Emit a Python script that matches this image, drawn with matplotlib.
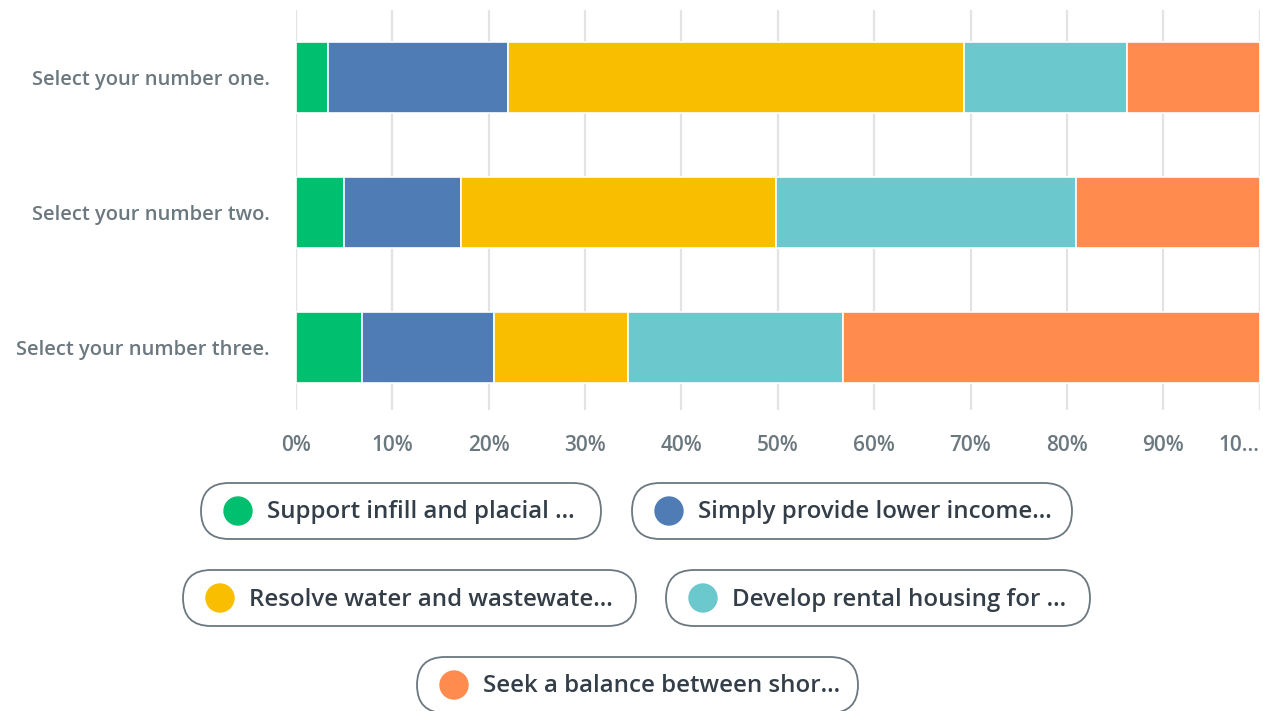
import matplotlib
matplotlib.use('Agg')
import matplotlib.pyplot as plt
from matplotlib.patches import FancyBboxPatch, Circle
import numpy as np

plt.rcParams['font.family'] = ['Open Sans', 'DejaVu Sans']

# ── Data ──────────────────────────────────────────────────────
QUESTIONS = ['Select your number one.', 'Select your number two.', 'Select your number three.']
SERIES    = ['Support infill and placial ...', 'Simply provide lower income...',
             'Resolve water and wastewate...', 'Develop rental housing for ...',
             'Seek a balance between shor...']
COLORS    = ['#00bf6f', '#507cb6', '#f9be00', '#6bc8cd', '#ff8b4f']
# percent per question (rows) for each series (cols)
VALUES = np.array([
    [3.3, 18.7, 47.3, 16.9, 13.8],
    [5.0, 12.1, 32.7, 31.1, 19.1],
    [6.9, 13.6, 13.9, 22.4, 43.2],
])
XTICKS      = [0, 10, 20, 30, 40, 50, 60, 70, 80, 90, 100]
XTICKLABELS = ['0%', '10%', '20%', '30%', '40%', '50%', '60%', '70%', '80%', '90%', '10...']

W, H = 1263, 711
fig = plt.figure(figsize=(W / 100, H / 100), dpi=100)

# ── Bars ──────────────────────────────────────────────────────
ax = fig.add_axes([296 / W, 1 - 410 / H, (1259.7 - 296) / W, 400 / H])
y = np.arange(len(QUESTIONS))
left = np.zeros(len(QUESTIONS))
for j in range(len(SERIES)):
    ax.barh(y, VALUES[:, j], left=left, height=0.525, color=COLORS[j],
            edgecolor='white', linewidth=1.2, zorder=3)
    left += VALUES[:, j]

ax.set_xlim(0, 100)
ax.set_ylim(2.46, -0.5)
ax.set_xticks(XTICKS)
ax.set_xticklabels(XTICKLABELS, fontsize=15, color='#6b787f', fontweight='semibold')
ax.get_xticklabels()[-1].set_horizontalalignment('right')
ax.set_yticks(y)
ax.set_yticklabels(QUESTIONS, fontsize=14.5, color='#6b787f', fontweight='semibold')
ax.tick_params(axis='both', length=0)
ax.tick_params(axis='x', pad=18)
ax.tick_params(axis='y', pad=19)
ax.grid(axis='x', color='#e3e3e3', lw=1.6, zorder=0)
for s in ax.spines.values():
    s.set_visible(False)

# ── Legend pills ──────────────────────────────────────────────
lg = fig.add_axes([0, 0, 1, 1])
lg.set_xlim(0, W); lg.set_ylim(H, 0)
lg.axis('off')
pills = [(201, 601, 511), (632, 1072, 511), (183, 636, 598), (666, 1090, 598), (417, 858, 685)]
for (x0, x1, yc), name, col in zip(pills, SERIES, COLORS):
    lg.add_patch(FancyBboxPatch((x0, yc - 28), x1 - x0, 56,
                                boxstyle='round,pad=0,rounding_size=28',
                                fc='white', ec='#6b787f', lw=1.3))
    lg.add_patch(Circle((x0 + 37, yc), 14, color=col))
    lg.text(x0 + 66, yc + 1.5, name, fontsize=17.3, color='#333e48',
            fontweight='semibold', va='center', ha='left')

fig.savefig('out.png', dpi=100)
